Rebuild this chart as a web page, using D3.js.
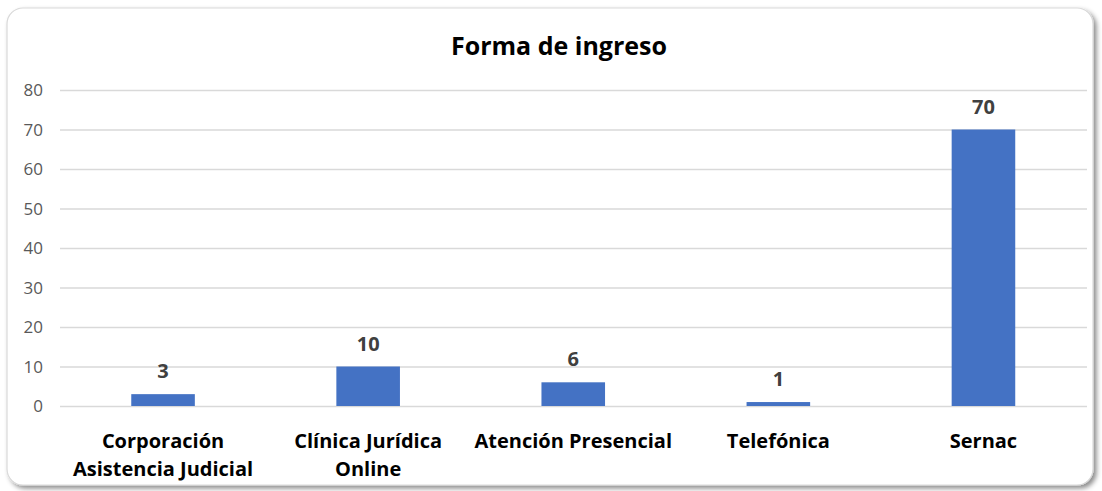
<!DOCTYPE html>
<html><head><meta charset="utf-8">
<script src="https://cdn.jsdelivr.net/npm/d3@7"></script>
<style>body{margin:0;background:#fff;}svg{display:block;}</style>
</head><body>
<script>
const categories = [["Corporación","Asistencia Judicial"],["Clínica Jurídica","Online"],["Atención Presencial"],["Telefónica"],["Sernac"]];
const values = [3,10,6,1,70];
const yTicks = [0,10,20,30,40,50,60,70,80];
const title = "Forma de ingreso";

const W=1102,H=491;
const svg=d3.select("body").append("svg").attr("width",W).attr("height",H);
const defs=svg.append("defs");
const f=defs.append("filter").attr("id","sh").attr("x","-5%").attr("y","-5%").attr("width","110%").attr("height","115%");
f.append("feDropShadow").attr("dx",3).attr("dy",3).attr("stdDeviation",2.5).attr("flood-color","#000").attr("flood-opacity",0.45);
svg.append("rect").attr("x",7).attr("y",8).attr("width",1086).attr("height",477).attr("rx",16)
  .attr("fill","#fff").attr("stroke","#d9d9d9").attr("stroke-width",1.2).attr("filter","url(#sh)");

const x=d3.scaleBand().domain(d3.range(categories.length)).range([60.5,1086]).padding(0);
const y=d3.scaleLinear().domain([0,80]).range([406,90]);
const font="'Open Sans', 'Noto Sans', sans-serif";

svg.append("text").attr("x",559).attr("y",55).attr("text-anchor","middle")
  .attr("font-family",font).attr("font-weight","bold").attr("font-size",25).attr("fill","#000").text(title);

const g=svg.append("g");
g.selectAll("line.grid").data(yTicks).join("line").attr("class","grid")
  .attr("x1",60).attr("x2",1087).attr("y1",d=>y(d)+0.5).attr("y2",d=>y(d)+0.5)
  .attr("stroke","#d9d9d9").attr("stroke-width",1.3);
g.selectAll("text.yt").data(yTicks).join("text").attr("class","yt")
  .attr("x",43).attr("y",d=>y(d)+6).attr("text-anchor","end")
  .attr("font-family",font).attr("font-size",17).attr("fill","#595959").text(d=>d);

const bw=x.step()*0.31;
g.selectAll("rect.bar").data(values).join("rect").attr("class","bar")
  .attr("x",(d,i)=>x(i)+x.bandwidth()/2-bw/2).attr("width",bw)
  .attr("y",d=>y(d)).attr("height",d=>y(0)-y(d)).attr("fill","#4472C4");
g.selectAll("text.val").data(values).join("text").attr("class","val")
  .attr("x",(d,i)=>x(i)+x.bandwidth()/2).attr("y",d=>y(d)-16).attr("text-anchor","middle")
  .attr("font-family",font).attr("font-weight","bold").attr("font-size",20).attr("fill","#404040").text(d=>d);

categories.forEach((lines,i)=>{
  const t=g.append("text").attr("x",x(i)+x.bandwidth()/2).attr("y",448).attr("text-anchor","middle")
    .attr("font-family",font).attr("font-weight","bold").attr("font-size",20).attr("fill","#000");
  lines.forEach((l,j)=>t.append("tspan").attr("x",x(i)+x.bandwidth()/2).attr("dy",j?28:0).text(l));
});
</script>
</body></html>
